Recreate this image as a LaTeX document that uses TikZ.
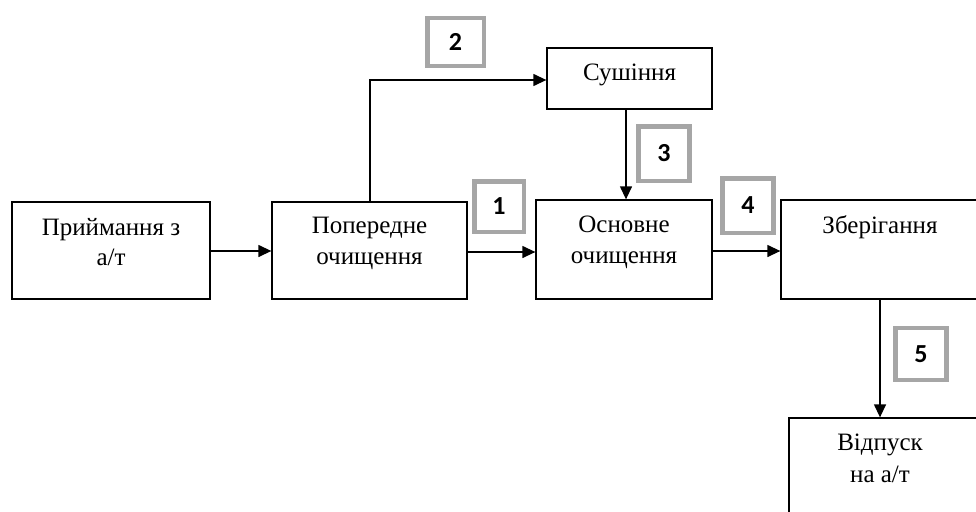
\documentclass[tikz,border=0pt]{standalone}
\usepackage{fontspec}
\setmainfont{Liberation Serif}
\newfontfamily\numfont{Carlito}
\usetikzlibrary{arrows.meta}
\definecolor{numgray}{HTML}{A6A6A6}
\tikzset{
  box/.style={draw=black, line width=1.3pt, rectangle, inner sep=0pt},
  txt/.style={font=\fontsize{25}{30}\selectfont, inner sep=0pt, anchor=base},
  numbox/.style={draw=numgray, line width=4.5pt, rectangle, minimum width=51pt, minimum height=52pt, inner sep=0pt, font=\numfont\bfseries\fontsize{26}{30}\selectfont},
  conn/.style={line width=1.3pt, -{Triangle[length=13pt,width=12pt]}}
}
\begin{document}
\begin{tikzpicture}[x=1pt,y=-1pt]
\useasboundingbox (0,0) rectangle (976,511);
\clip (0,0) rectangle (976,511);
% boxes
\node[box, minimum width=198pt, minimum height=97pt] (b1) at (111,250.5) {};
\node[box, minimum width=195pt, minimum height=97pt] (b2) at (369.5,250.5) {};
\node[box, minimum width=176pt, minimum height=99pt] (b3) at (624,249.5) {};
\node[box, minimum width=165pt, minimum height=61pt] (bs) at (629.5,78.5) {};
\node[box, minimum width=220pt, minimum height=99pt] (b4) at (891,249.5) {};
\node[box, minimum width=220pt, minimum height=110pt] (b5) at (899,473) {};
% texts
\node[txt] (t1a) at (111,235) {Приймання з};
\node[txt] (t1b) at (111,265) {а/т};
\node[txt] (t2a) at (369.5,233) {Попередне};
\node[txt] (t2b) at (369.5,264) {очищення};
\node[txt] (t3a) at (624,232) {Основне};
\node[txt] (t3b) at (624,263) {очищення};
\node[txt] (ts) at (629.5,80) {Сушіння};
\node[txt] (t4) at (880,233) {Зберігання};
\node[txt] (t5a) at (880,450) {Відпуск};
\node[txt] (t5b) at (880,482) {на а/т};
% connectors
\coordinate (c2) at (370,80);
\draw[conn] (b1.east |- 0,251) -- (b2.west |- 0,251);
\draw[conn] (b2.east |- 0,252) -- (b3.west |- 0,252);
\draw[conn] (b2.north -| c2) -- (c2) -- (bs.west |- c2);
\draw[conn] (bs.south -| 626,0) -- (b3.north -| 626,0);
\draw[conn] (b3.east |- 0,251) -- (b4.west |- 0,251);
\draw[conn] (b4.south -| 880,0) -- (b5.north -| 880,0);
% number labels
\node[numbox, minimum width=56.5pt, minimum height=47.5pt] (n2) at (455.5,42) {2};
\node[numbox, minimum width=49.5pt, minimum height=50.5pt] (n1) at (499,206.5) {1};
\node[numbox, minimum height=54.5pt] (n3) at (664,153.5) {3};
\node[numbox, minimum height=54.5pt] (n4) at (748,205.5) {4};
\node[numbox] (n5) at (921,354) {5};
\end{tikzpicture}
\end{document}
